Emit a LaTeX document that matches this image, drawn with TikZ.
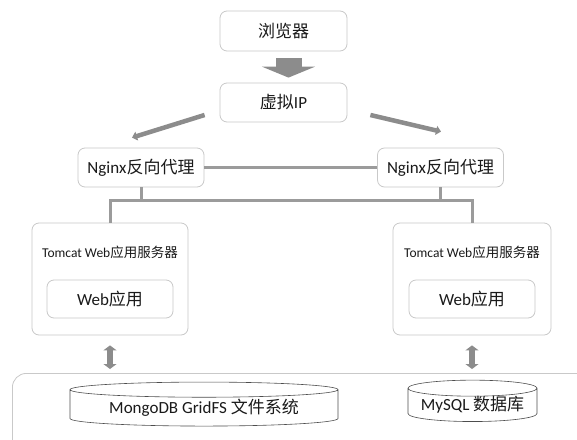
\documentclass[tikz,border=0pt]{standalone}
\usepackage{fontspec}
\setmainfont{Carlito}
\newfontfamily\cjk{Noto Sans CJK SC}
\usepackage{tikz}
\usetikzlibrary{positioning,shapes.geometric,arrows.meta,calc}
\definecolor{archFrame}{HTML}{C9C9C9}
\definecolor{archInk}{HTML}{1A1A1A}
\definecolor{archLink}{HTML}{9B9B9B}
\definecolor{archArrow}{HTML}{8C8C8C}
\definecolor{dbEdge}{HTML}{4D4D4D}
\newcommand{\zh}[1]{{\cjk #1}}
\tikzset{
  tierbox/.style={
    draw=archFrame, line width=0.8pt, rounded corners=7pt,
    fill=white, text=archInk, inner sep=0pt,
    font=\fontsize{17}{19}\selectfont
  },
  hostbox/.style={tierbox, minimum width=#1, minimum height=112pt},
  hostlabel/.style={font=\fontsize{13.5}{15}\selectfont, text=archInk},
  dbcyl/.style={
    cylinder, shape border rotate=90, draw=dbEdge, line width=0.6pt,
    fill=white, text=archInk, inner sep=0pt,
    font=\fontsize{17}{19}\selectfont
  },
  link/.style={draw=archLink, line width=3pt},
  fatarrow/.style={draw=archArrow, line width=26pt,
    -{Triangle[length=11pt,width=53pt]}},
  slantarrow/.style={draw=archArrow, line width=4.5pt,
    -{Triangle[length=5pt,width=9pt]}},
  duplex/.style={draw=archArrow, line width=5.5pt,
    {Triangle[length=5pt,width=13pt]}-{Triangle[length=5pt,width=13pt]}},
}

\begin{document}
\begin{tikzpicture}[x=1pt,y=-1pt]

% --- canvas -----------------------------------------------------------------
\clip (0,0) rectangle (577,439);
\fill[white] (0,0) rectangle (577,439);

% --- storage panel (runs off the right and bottom edge) ---------------------
\node[draw=archFrame, line width=0.8pt, rounded corners=14pt,
      minimum width=578pt, minimum height=100pt, anchor=north west]
      (store) at (12,373) {};

% --- entry tiers ------------------------------------------------------------
\node[tierbox, minimum width=127pt, minimum height=40pt]
      (browser) at (283.5,31) {\zh{浏览器}};
\node[tierbox, minimum width=127pt, minimum height=39pt]
      (vip) at (283.5,102.5) {\zh{虚拟}IP};

\node[tierbox, minimum width=126pt, minimum height=39pt]
      (nginxL) at (141,167.5) {Nginx\zh{反向代理}};
\node[tierbox, minimum width=126pt, minimum height=39pt]
      (nginxR) at (440.5,167.5) {Nginx\zh{反向代理}};

% --- application servers ----------------------------------------------------
\node[hostbox=156pt] (tomL) at (110,279) {};
\node[hostbox=158pt] (tomR) at (472,279) {};
\node[hostlabel] (tomLlabel) at (110,252) {Tomcat Web\zh{应用服务器}};
\node[hostlabel] (tomRlabel) at (472,252) {Tomcat Web\zh{应用服务器}};

\node[tierbox, minimum width=126pt, minimum height=38pt]
      (appL) at (110,299) {Web\zh{应用}};
\node[tierbox, minimum width=126pt, minimum height=38pt]
      (appR) at (472,299) {Web\zh{应用}};

% --- data stores ------------------------------------------------------------
\node[dbcyl, minimum width=268pt, minimum height=44pt, aspect=0.08]
      (mongo) at (204,408) {MongoDB GridFS \zh{文件系统}};
\node[dbcyl, minimum width=129pt, minimum height=39pt, aspect=0.155]
      (mysql) at (472.5,405) {MySQL \zh{数据库}};

% --- connectors -------------------------------------------------------------
\draw[fatarrow] ($(browser.south)+(5,7)$) -- ($(vip.north)+(5,-5)$);
\draw[slantarrow] ($(vip.west)+(-15,12.5)$) -- ($(nginxL.north)+(-9,-10)$);
\draw[slantarrow] ($(vip.east)+(23,12.5)$) -- ($(nginxR.north)+(0.5,-16)$);

\draw[link] (nginxL.east) -- (nginxR.west);

\coordinate (busL) at (110,200);
\coordinate (busR) at (472,200);
\draw[link] (tomL.north) -- (busL) -- (busR) -- (tomR.north);
\draw[link] (nginxL.south) -- (nginxL.south |- busL);
\draw[link] (nginxR.south) -- (nginxR.south |- busR);

\draw[duplex] ($(tomL.south)+(0,10)$) -- ($(tomL.south |- store.north)+(0,-4)$);
\draw[duplex] ($(tomR.south)+(0,10)$) -- ($(tomR.south |- store.north)+(0,-4)$);

\end{tikzpicture}
\end{document}
